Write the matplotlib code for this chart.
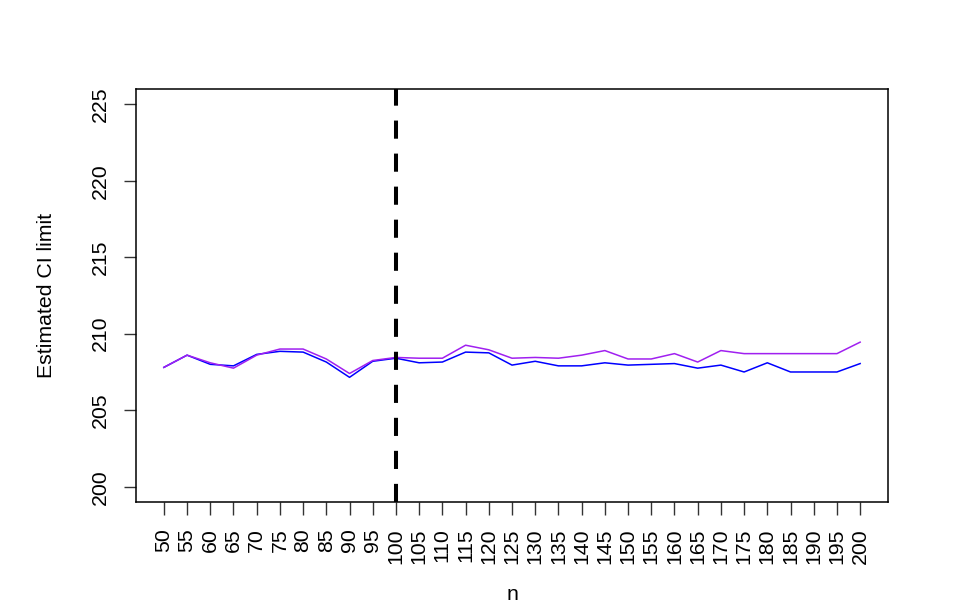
import matplotlib

matplotlib.use("Agg")
import matplotlib.pyplot as plt

plt.rcParams["font.family"] = ["Liberation Sans", "DejaVu Sans"]

n_values = list(range(50, 201, 5))
ci_blue = [207.8, 208.6, 208.0, 207.9, 208.65, 208.85, 208.8, 208.15, 207.15, 208.2, 208.4,
           208.1, 208.15, 208.8, 208.75, 207.95, 208.2, 207.9, 207.9, 208.1, 207.95,
           208.0, 208.05, 207.75, 207.95, 207.5, 208.1, 207.5, 207.5, 207.5, 208.05]
ci_purple = [207.8, 208.6, 208.1, 207.75, 208.6, 209.0, 209.0, 208.35, 207.4, 208.25, 208.45,
             208.4, 208.4, 209.25, 208.95, 208.4, 208.45, 208.4, 208.6, 208.9, 208.35,
             208.35, 208.7, 208.15, 208.9, 208.7, 208.7, 208.7, 208.7, 208.7, 209.45]
cutoff_n = 100
y_ticks = [200, 205, 210, 215, 220, 225]

W, H = 973, 613
fig = plt.figure(figsize=(W / 100, H / 100), dpi=100)
ax = fig.add_axes([136 / W, 1 - 502 / H, (888 - 136) / W, (502 - 89) / H])

ax.plot(n_values, ci_blue, color="#0000FF", linewidth=1.1)
ax.plot(n_values, ci_purple, color="#A020F0", linewidth=1.1)
ax.axvline(cutoff_n, color="black", linewidth=2.9, dashes=(4.5, 3.7))

ax.set_xlim(44, 206)
ax.set_ylim(199, 226)
ax.set_xticks(n_values)
ax.set_xticklabels([str(v) for v in n_values], rotation=90, fontsize=15.3)
ax.set_yticks(y_ticks)
ax.set_yticklabels([str(v) for v in y_ticks], rotation=90, va="center", fontsize=15.3)
ax.tick_params(length=9, width=1, pad=10, color="#333333")
for s in ax.spines.values():
    s.set_linewidth(1.1)

fig.text(512 / W, 1 - 595 / H, "n", ha="center", va="center", fontsize=15.3)
fig.text(47 / W, 1 - 295 / H, "Estimated CI limit", ha="center", va="center",
         rotation=90, fontsize=15.3)

fig.savefig("out.png", dpi=100)
